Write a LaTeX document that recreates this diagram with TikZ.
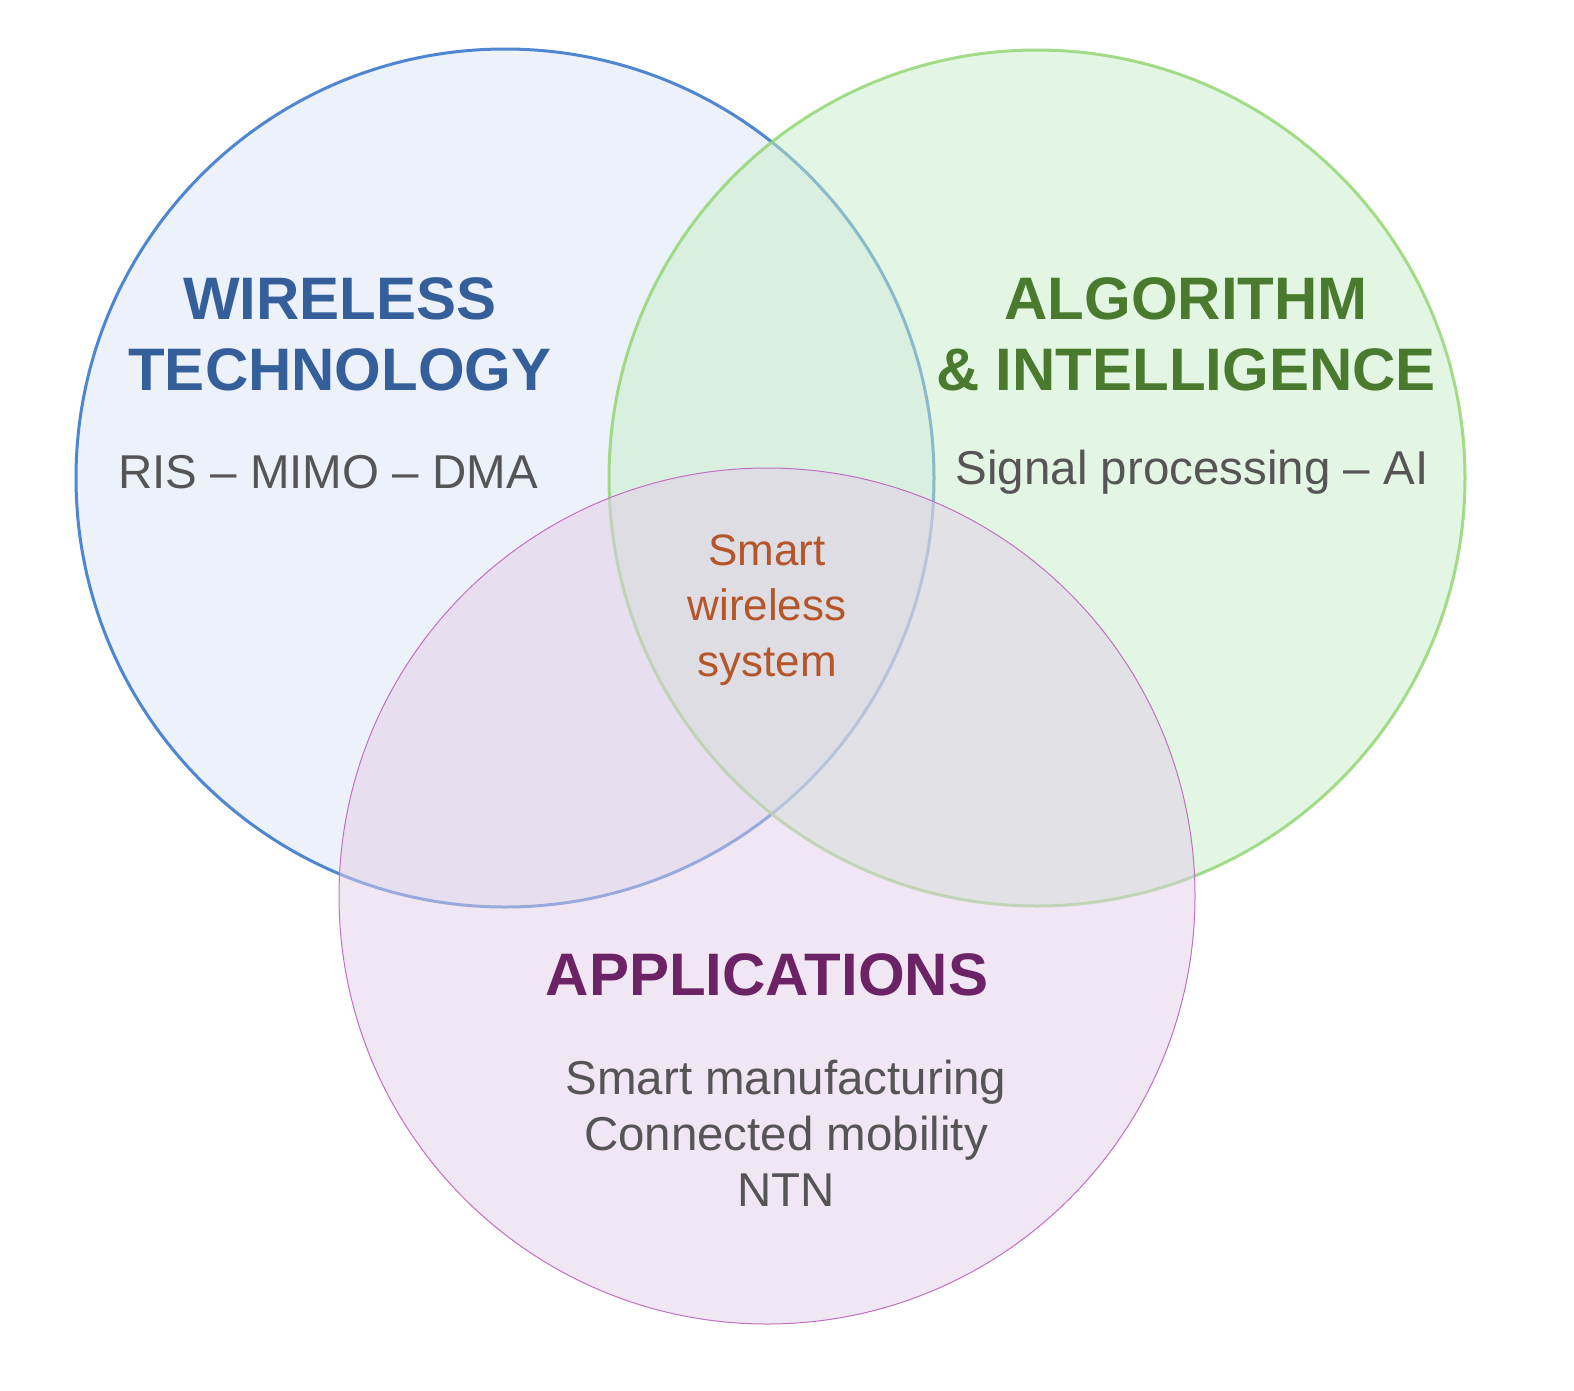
\documentclass[tikz,border=0pt]{standalone}
\usepackage{fontspec}
\setmainfont{Liberation Sans}
\begin{document}
\begin{tikzpicture}[x=1pt,y=-1pt,
  ttl/.style={font=\fontsize{60}{71}\selectfont\bfseries,align=center},
  body/.style={font=\fontsize{47.5}{56}\selectfont,text=txtgray,align=center},
  circ/.style={line width=3pt}]
\definecolor{txtgray}{HTML}{555555}
\definecolor{bfill}{HTML}{EDF2FA}\definecolor{bline}{HTML}{4F86D2}
\definecolor{gfill}{HTML}{C7EDC7}\definecolor{gline}{HTML}{8FD46E}
\definecolor{pfill}{HTML}{E3CDE7}\definecolor{pline}{HTML}{C070C0}
\definecolor{tb}{HTML}{345F9A}\definecolor{tg}{HTML}{4A7A2E}\definecolor{tp}{HTML}{6B2365}
\useasboundingbox (0,0) rectangle (1574,1390);
\fill[bfill] (505,478) circle (429);
\draw[circ,bline] (505,478) circle (429);
\fill[gfill,opacity=0.5] (1037,478) circle (428);
\draw[circ,gline,opacity=0.8] (1037,478) circle (428);
\fill[pfill,opacity=0.5] (767,896) circle (428);
\draw[pline,line width=1pt] (767,896) circle (428);
\node[ttl,text=tb] (wt) at (340,334) {WIRELESS\\TECHNOLOGY};
\node[ttl,text=tg] (ai) at (1186,334) {ALGORITHM\\\& INTELLIGENCE};
\node[ttl,text=tp] (ap) at (767,975) {APPLICATIONS};
\node[body] (ris) at (328,472) {RIS – MIMO – DMA};
\node[body] (sp) at (1192,472) {Signal processing – AI};
\node[body] (apps) at (786,1133) {Smart manufacturing\\Connected mobility\\NTN};
\node[body,text={rgb,255:red,181;green,86;blue,42},font=\fontsize{44}{55.5}\selectfont] (sws) at (767,610) {Smart\\wireless\\system};
\end{tikzpicture}
\end{document}
